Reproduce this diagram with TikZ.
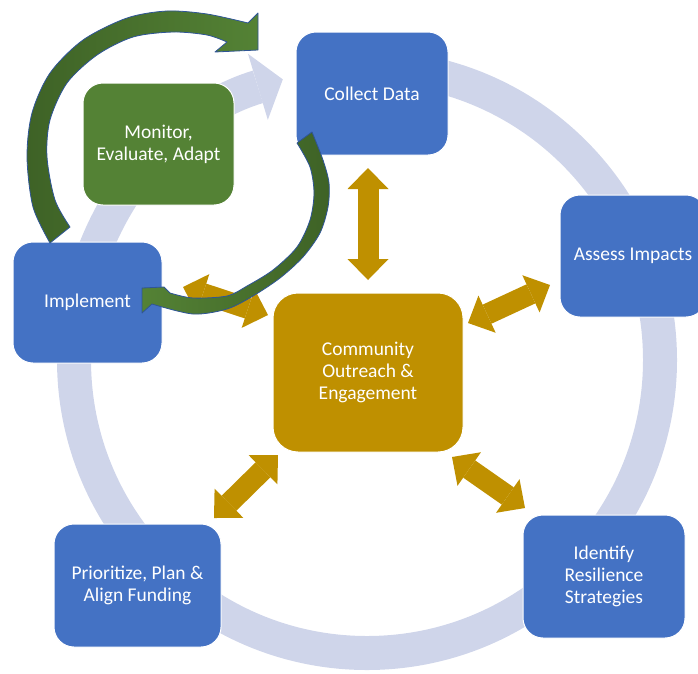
\documentclass[tikz,border=0pt]{standalone}
\usepackage{fontspec}
\setmainfont{Carlito}
\usetikzlibrary{arrows.meta}
\definecolor{boxblue}{RGB}{68,114,196}
\definecolor{boxgreen}{RGB}{84,130,53}
\definecolor{darkgreen}{RGB}{62,98,38}
\definecolor{gold}{RGB}{191,144,0}
\definecolor{ringblue}{RGB}{207,213,234}
\definecolor{edgeblue}{RGB}{47,85,151}
\begin{document}
\begin{tikzpicture}[x=1pt,y=-1pt,
  box/.style={rounded corners=20pt, draw=white, line width=1pt, text=white,
    align=center, inner sep=0pt, font=\fontsize{19.5}{22}\selectfont},
  bluebox/.style={box, fill=boxblue},
  dbl/.style={draw=gold, line width=21pt,
    {Triangle[width=41pt,length=21pt,line width=0pt]}-{Triangle[width=41pt,length=21pt,line width=0pt]}},
  curvy/.style={draw=edgeblue, line width=0.8pt, line join=round}]
\useasboundingbox (0,0) rectangle (698,673);

 % le cercle du cycle
  \coordinate (c) at (367,360);
  \draw[ringblue, line width=34pt, -{Triangle[width=69pt,length=26pt,line width=0pt]}]
    (c) ++(-90:293) arc[start angle=-90, end angle=253.3, radius=293];

 % les étapes
  \node[bluebox, minimum width=152pt, minimum height=123pt] (data) at (372,93.5) {Collect Data};
  \node[bluebox, minimum width=146pt, minimum height=122pt] (assess) at (633,256) {Assess Impacts};
  \node[bluebox, minimum width=162pt, minimum height=123pt] (ident) at (604,576.5) {Identify\\Resilience\\Strategies};
  \node[bluebox, minimum width=167pt, minimum height=123pt] (prior) at (137.5,585.5) {Prioritize, Plan \&\\Align Funding};
  \node[bluebox, minimum width=149pt, minimum height=121pt] (impl) at (87.5,302.5) {Implement};
  \node[box, fill=boxgreen, minimum width=151pt, minimum height=122pt] (monitor) at (158.5,144) {Monitor,\\Evaluate, Adapt};
  \node[box, fill=gold, rounded corners=25pt, minimum width=190pt, minimum height=159pt] (outreach) at (368,372.5) {Community\\Outreach \&\\Engagement};

 % les flèches doubles vers le centre
  \coordinate (d1) at (368,168);  \coordinate (o1) at (368,280);
  \coordinate (d2) at (550,285);  \coordinate (o2) at (468,323);
  \coordinate (d3) at (525,508);  \coordinate (o3) at (452,457);
  \coordinate (d4) at (214,518);  \coordinate (o4) at (278,455);
  \coordinate (d5) at (183,287);  \coordinate (o5) at (268,315);
  \foreach \i in {1,...,5}
    \draw[dbl] (d\i) -- (o\i);

 % les flèches vertes
  \draw[curvy, left color=darkgreen, right color=boxgreen]
    plot[smooth] coordinates {(50,243) (33,207) (27,157) (32,113) (50,73) (83,40) (127,18) (167,11) (207,14) (248,23)}
    -- (258,13) -- (258,50) -- (215,52) -- (227,42)
    -- plot[smooth] coordinates {(227,42) (207,35) (173,32) (133,37) (97,55) (67,83) (50,120) (47,157) (55,200) (70,227)}
    -- cycle;
  \draw[curvy, left color=boxgreen, right color=darkgreen]
    plot[smooth] coordinates {(312,132) (323,160) (329,183) (328,207) (320,233) (303,257) (280,278) (253,296) (227,309) (193,314) (152,304)}
    -- (142,313) -- (142,288) -- (164,287) -- (170,293)
    -- plot[smooth] coordinates {(170,293) (193,298) (227,296) (247,286) (273,270) (297,247) (310,220) (314,193) (310,167) (297,143)}
    -- cycle;
\end{tikzpicture}
\end{document}
